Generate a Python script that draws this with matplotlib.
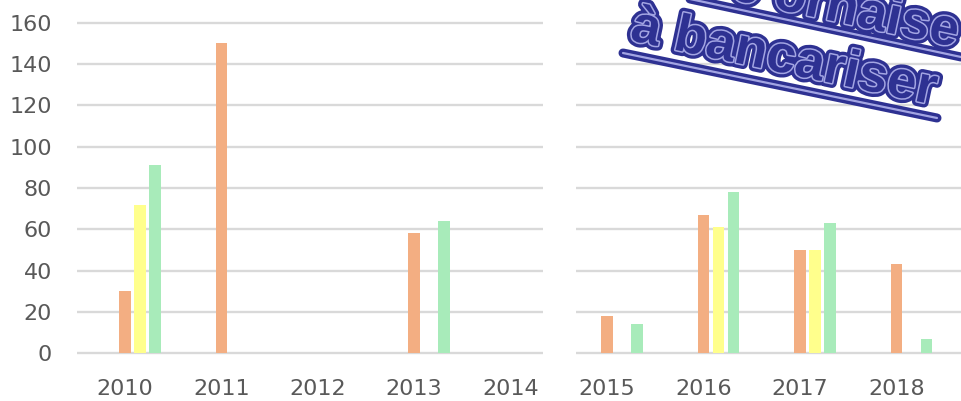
import matplotlib.pyplot as plt
import matplotlib.patheffects as pe
from matplotlib.lines import Line2D

# data
years_a = ["2010", "2011", "2012", "2013", "2014"]
years_b = ["2015", "2016", "2017", "2018"]
orange_a = [30, 150, 0, 58, 0]
yellow_a = [72, 0, 0, 0, 0]
green_a = [91, 0, 0, 64, 0]
orange_b = [18, 67, 50, 43]
yellow_b = [0, 61, 50, 0]
green_b = [14, 78, 63, 7]
y_ticks = [0, 20, 40, 60, 80, 100, 120, 140, 160]

stamp_line1 = "e ornaise"
stamp_line2 = "à bancariser"

C_ORANGE = "#F3AE82"
C_YELLOW = "#FFFF8C"
C_GREEN = "#A8EBBA"
C_GRID = "#D9D9D9"
C_TEXT = "#595959"
C_STAMP = "#2E3192"
C_STAMP_LIGHT = "#A3A5E3"

W = 961
H = 401
fig = plt.figure(figsize=(W / 100, H / 100), dpi=100)

bottom = 0.1137
height = 0.8399
ax_a = fig.add_axes([77 / W, bottom, 466 / W, height])
ax_b = fig.add_axes([576 / W, bottom, 385 / W, height])

bar_w = 0.119
step = 0.155


def draw_panel(ax, years, orange, yellow, green, xlim, show_y):
    xs = list(range(len(years)))
    ax.bar([x for x in xs], orange, width=bar_w, color=C_ORANGE, zorder=3)
    ax.bar([x + step for x in xs], yellow, width=bar_w, color=C_YELLOW, zorder=3)
    ax.bar([x + 2 * step for x in xs], green, width=bar_w, color=C_GREEN, zorder=3)
    ax.set_xlim(*xlim)
    ax.set_ylim(-1, 162)
    ax.set_xticks(xs)
    ax.set_xticklabels(years)
    ax.set_yticks(y_ticks)
    for t in y_ticks:
        ax.axhline(t, color=C_GRID, lw=1.7, zorder=1)
    for s in ax.spines.values():
        s.set_visible(False)
    ax.tick_params(axis="both", length=0, labelsize=16, labelcolor=C_TEXT)
    ax.tick_params(axis="x", pad=17)
    ax.tick_params(axis="y", pad=18)
    if not show_y:
        ax.set_yticklabels([])
        ax.tick_params(axis="y", left=False, labelleft=False)


draw_panel(ax_a, years_a, orange_a, yellow_a, green_a, (-0.497, 4.337), True)
draw_panel(ax_b, years_b, orange_b, yellow_b, green_b, (-0.321, 3.668), False)

# the rotated "stamp" over the top right corner
angle = -12
effects = [
    pe.Stroke(linewidth=7, foreground=C_STAMP),
    pe.Stroke(linewidth=2.2, foreground=C_STAMP_LIGHT),
    pe.Normal(),
]
stamp_kw = dict(fontsize=38, fontweight="bold", family="Liberation Sans",
                color=C_STAMP, rotation=angle, rotation_mode="anchor",
                va="baseline", zorder=5, path_effects=effects)
fig.text(955 / W, (H - 47) / H, stamp_line1, ha="right", **stamp_kw)
fig.text(629 / W, (H - 40) / H, stamp_line2, ha="left", **stamp_kw)

line_effects = [
    pe.Stroke(linewidth=6.5, foreground=C_STAMP),
    pe.Stroke(linewidth=1.6, foreground=C_STAMP_LIGHT),
]
for (x0, y0), (x1, y1) in [((690, -1), (961, 57)), ((623, 53), (937, 118))]:
    ln = Line2D([x0 / W, x1 / W], [(H - y0) / H, (H - y1) / H],
                transform=fig.transFigure, color=C_STAMP, lw=6.5,
                solid_capstyle="round", zorder=4, path_effects=line_effects)
    fig.add_artist(ln)

fig.savefig("out.png", dpi=100)
